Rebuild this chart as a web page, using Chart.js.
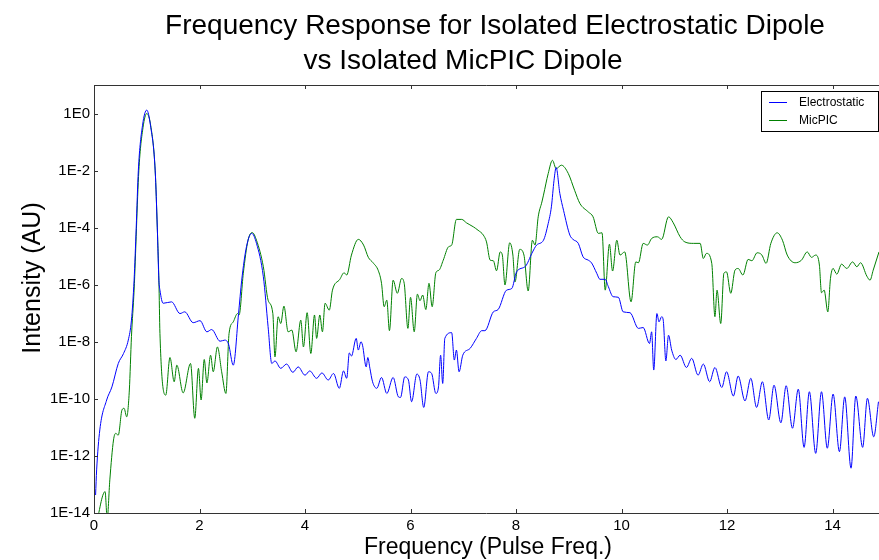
<!DOCTYPE html>
<html>
<head>
<meta charset="utf-8">
<script src="https://cdn.jsdelivr.net/npm/chart.js@4.4.1/dist/chart.umd.min.js"></script>
<style>
  html, body { margin: 0; padding: 0; background: #fff; }
  #wrap { width: 879px; height: 560px; position: relative; }
</style>
</head>
<body>
<div id="wrap"><canvas id="spectrum" width="879" height="560"></canvas></div>
<script>
// frequency in units of the pulse frequency, intensity kept as log10 exponents
var electroFreq = [0.03,0.05,0.11,0.24,0.34,0.46,0.56,0.65,0.71,0.76,0.80,0.84,0.92,1.00,1.07,1.16,1.20,1.23,1.25,1.31,1.47,1.63,1.72,1.88,2.01,2.14,2.23,2.39,2.48,2.55,2.64,2.74,2.80,2.89,2.99,3.08,3.21,3.30,3.37,3.43,3.54,3.65,3.77,3.87,4.00,4.09,4.22,4.32,4.44,4.54,4.65,4.73,4.79,4.84,4.88,4.97,5.01,5.06,5.09,5.16,5.19,5.23,5.28,5.36,5.45,5.55,5.67,5.77,5.81,5.89,5.96,6.02,6.12,6.18,6.25,6.34,6.40,6.48,6.53,6.57,6.61,6.65,6.78,6.83,6.87,6.92,6.99,7.13,7.25,7.35,7.41,7.57,7.66,7.82,7.92,8.01,8.18,8.30,8.39,8.52,8.61,8.67,8.72,8.76,8.83,8.90,9.02,9.08,9.18,9.27,9.37,9.43,9.53,9.59,9.69,9.75,9.84,9.94,10.03,10.16,10.32,10.41,10.53,10.57,10.61,10.67,10.71,10.76,10.79,10.84,10.89,10.95,11.03,11.11,11.23,11.33,11.45,11.55,11.67,11.77,11.90,11.99,12.12,12.21,12.34,12.45,12.56,12.67,12.79,12.89,13.02,13.12,13.24,13.35,13.46,13.56,13.68,13.79,13.90,14.01,14.13,14.23,14.35,14.44,14.57,14.66,14.78,14.87];
var electroExp = [-13.37,-12.49,-11.09,-10.04,-9.58,-8.76,-8.41,-7.94,-7.24,-5.84,-4.01,-2.01,-0.41,0.12,-0.41,-2.01,-4.01,-5.84,-6.19,-6.65,-6.60,-7.01,-6.95,-7.33,-7.26,-7.65,-7.57,-7.98,-7.94,-8.08,-8.82,-7.01,-5.84,-4.67,-4.20,-4.55,-5.72,-7.47,-8.76,-8.67,-8.93,-8.78,-9.07,-8.88,-9.17,-9.02,-9.28,-9.09,-9.34,-9.11,-9.63,-9.02,-9.28,-8.39,-8.50,-7.88,-8.29,-8.00,-8.12,-8.88,-8.55,-8.93,-9.40,-9.63,-9.25,-9.81,-9.25,-9.93,-9.95,-9.23,-9.34,-10.10,-9.13,-9.34,-10.30,-9.05,-9.11,-9.81,-9.58,-8.47,-9.46,-7.88,-7.68,-8.64,-8.29,-9.05,-8.47,-8.23,-7.88,-7.61,-7.61,-6.95,-6.87,-6.19,-6.13,-5.55,-5.35,-4.90,-4.61,-4.44,-3.85,-3.27,-2.34,-1.89,-2.80,-3.39,-4.26,-4.41,-4.55,-5.02,-5.14,-5.23,-5.60,-5.81,-5.81,-6.07,-6.42,-6.44,-6.95,-6.98,-7.53,-7.50,-8.06,-7.65,-8.99,-7.01,-7.30,-7.12,-7.24,-8.67,-7.77,-8.29,-8.62,-8.47,-8.90,-8.58,-9.17,-8.78,-9.40,-8.90,-9.60,-9.05,-9.90,-9.20,-10.07,-9.28,-10.30,-9.40,-10.74,-9.52,-10.84,-9.54,-11.03,-9.66,-11.70,-9.75,-11.91,-9.75,-11.73,-9.83,-11.85,-9.93,-12.43,-9.90,-11.70,-9.98,-11.33,-10.10];

var micpicFreq = [0.04,0.21,0.25,0.30,0.37,0.41,0.46,0.53,0.57,0.62,0.67,0.71,0.76,0.85,0.93,1.00,1.08,1.16,1.20,1.23,1.25,1.36,1.44,1.52,1.57,1.69,1.83,1.91,1.98,2.03,2.09,2.14,2.21,2.26,2.34,2.42,2.50,2.56,2.64,2.72,2.75,2.83,2.92,3.00,3.08,3.21,3.30,3.39,3.43,3.49,3.54,3.60,3.68,3.75,3.83,3.92,3.97,4.04,4.11,4.18,4.22,4.28,4.33,4.38,4.46,4.52,4.66,4.74,4.79,4.88,5.01,5.11,5.20,5.29,5.39,5.45,5.50,5.55,5.60,5.67,5.75,5.83,5.88,5.95,6.00,6.07,6.13,6.18,6.23,6.29,6.35,6.41,6.48,6.54,6.62,6.72,6.78,6.87,6.97,7.06,7.19,7.28,7.38,7.44,7.51,7.57,7.63,7.70,7.74,7.79,7.88,7.94,7.98,8.07,8.15,8.23,8.31,8.36,8.42,8.49,8.52,8.61,8.69,8.76,8.86,8.99,9.11,9.21,9.37,9.46,9.56,9.63,9.69,9.77,9.83,9.91,9.97,10.06,10.18,10.27,10.32,10.41,10.49,10.57,10.68,10.76,10.89,10.98,11.11,11.20,11.36,11.49,11.55,11.61,11.71,11.77,11.81,11.88,11.94,11.99,12.07,12.15,12.21,12.30,12.40,12.47,12.57,12.66,12.74,12.83,12.95,13.05,13.14,13.29,13.41,13.52,13.60,13.68,13.75,13.79,13.84,13.91,13.96,14.01,14.08,14.17,14.27,14.38,14.46,14.53,14.65,14.71,14.77,14.88];
var micpicExp = [-14.42,-13.25,-14.20,-12.84,-11.44,-11.21,-11.27,-10.39,-10.33,-10.63,-9.69,-7.82,-6.19,-2.01,-0.48,0.00,-0.48,-2.01,-4.01,-5.84,-7.71,-9.87,-8.55,-9.40,-8.82,-9.79,-8.76,-10.68,-8.93,-10.04,-8.62,-9.44,-8.47,-9.05,-8.18,-9.05,-9.81,-7.71,-7.30,-7.01,-7.06,-5.60,-4.44,-4.17,-4.44,-5.37,-6.54,-7.01,-8.53,-7.12,-7.36,-6.75,-7.65,-7.59,-8.35,-7.24,-8.18,-6.98,-8.41,-7.06,-7.88,-7.06,-7.65,-6.65,-6.89,-6.19,-5.81,-5.58,-5.66,-4.96,-4.41,-4.61,-5.04,-5.23,-5.51,-5.95,-6.77,-6.54,-7.61,-5.84,-6.30,-5.78,-5.95,-7.53,-6.44,-7.65,-6.33,-6.56,-6.36,-6.87,-5.95,-6.77,-5.58,-5.49,-5.14,-4.67,-4.61,-3.71,-3.71,-3.83,-3.97,-4.09,-4.26,-4.50,-5.14,-5.16,-5.51,-4.85,-4.96,-6.01,-4.53,-4.96,-5.90,-4.76,-4.96,-6.22,-4.44,-4.61,-3.62,-3.10,-2.86,-2.10,-1.64,-1.93,-1.81,-2.10,-2.69,-3.15,-3.45,-3.62,-4.20,-4.18,-6.19,-4.58,-5.52,-4.44,-4.96,-4.85,-6.60,-5.20,-5.23,-4.55,-4.61,-4.38,-4.32,-4.41,-3.62,-3.83,-4.32,-4.50,-4.55,-4.55,-5.08,-4.90,-5.25,-7.12,-6.19,-7.36,-5.60,-5.55,-6.30,-5.49,-5.43,-5.66,-5.11,-5.16,-4.88,-4.96,-5.25,-4.55,-4.18,-4.44,-4.96,-5.23,-5.14,-4.85,-5.04,-4.96,-5.31,-6.28,-6.19,-6.95,-5.78,-5.43,-5.63,-5.28,-5.43,-5.20,-5.37,-5.23,-5.70,-5.84,-5.49,-4.85];

var seriesNames = ["Electrostatic", "MicPIC"];
var seriesColors = ["#0000ff", "#008000"];
var freqTicks = [0, 2, 4, 6, 8, 10, 12, 14];
var intensityTicks = [1e-14, 1e-12, 1e-10, 1e-8, 1e-6, 1e-4, 1e-2, 1];

function toPoints(freq, exps) {
  return freq.map(function (f, i) { return { x: f, y: Math.pow(10, exps[i]) }; });
}

var FONT = "'Liberation Sans', Arial, sans-serif";

// title, axis frame with inward ticks, legend box
var decorations = {
  id: "decorations",
  afterDraw: function (chart) {
    var c = chart.ctx, a = chart.chartArea;
    var xs = chart.scales.x, ys = chart.scales.y;
    c.save();

    c.fillStyle = "#000";
    c.textAlign = "center";
    c.textBaseline = "alphabetic";
    c.font = "28px " + FONT;
    c.fillText("Frequency Response for Isolated Electrostatic Dipole", 495, 34);
    c.fillText("vs Isolated MicPIC Dipole", 463, 69);

    c.font = "23px " + FONT;
    c.fillText("Frequency (Pulse Freq.)", 488, 554);

    c.save();
    c.translate(40, 278);
    c.rotate(-Math.PI / 2);
    c.font = "25px " + FONT;
    c.fillText("Intensity (AU)", 0, 0);
    c.restore();

    c.strokeStyle = "#333";
    c.lineWidth = 1;
    c.beginPath();
    c.moveTo(a.left + 0.5, a.bottom + 0.5);
    c.lineTo(a.left + 0.5, a.top + 0.5);
    c.lineTo(a.right, a.top + 0.5);
    c.moveTo(a.left, a.bottom + 0.5);
    c.lineTo(a.right, a.bottom + 0.5);
    freqTicks.forEach(function (t) {
      var px = Math.round(xs.getPixelForValue(t)) + 0.5;
      c.moveTo(px, a.bottom); c.lineTo(px, a.bottom - 4);
      c.moveTo(px, a.top); c.lineTo(px, a.top + 4);
    });
    intensityTicks.forEach(function (t) {
      var py = Math.round(ys.getPixelForValue(t)) + 0.5;
      c.moveTo(a.left, py); c.lineTo(a.left + 4, py);
    });
    c.stroke();

    // legend
    var lx = 761, ly = 91, lw = 117, lh = 40;
    c.fillStyle = "#fff";
    c.fillRect(lx, ly, lw, lh);
    c.strokeStyle = "#000";
    c.strokeRect(lx + 0.5, ly + 0.5, lw, lh);
    c.font = "12px " + FONT;
    c.textAlign = "left";
    c.textBaseline = "middle";
    seriesNames.forEach(function (name, i) {
      var y = ly + 11 + i * 18;
      c.strokeStyle = seriesColors[i];
      c.beginPath();
      c.moveTo(lx + 8, y + 0.5); c.lineTo(lx + 26, y + 0.5);
      c.stroke();
      c.fillStyle = "#000";
      c.fillText(name, lx + 38, y + 1);
    });
    c.restore();
  }
};

new Chart(document.getElementById("spectrum").getContext("2d"), {
  type: "line",
  data: {
    datasets: [
      {
        label: seriesNames[0],
        data: toPoints(electroFreq, electroExp),
        borderColor: seriesColors[0],
        borderWidth: 1,
        pointRadius: 0,
        cubicInterpolationMode: "monotone"
      },
      {
        label: seriesNames[1],
        data: toPoints(micpicFreq, micpicExp),
        borderColor: seriesColors[1],
        borderWidth: 1,
        pointRadius: 0,
        cubicInterpolationMode: "monotone"
      }
    ]
  },
  options: {
    responsive: false,
    animation: false,
    layout: { padding: { top: 85, right: 0, left: 0, bottom: 0 } },
    plugins: { legend: { display: false }, title: { display: false }, tooltip: { enabled: false } },
    scales: {
      x: {
        type: "linear",
        min: 0,
        max: 14.88,
        grid: { display: false, drawTicks: false },
        border: { display: false },
        afterBuildTicks: function (s) { s.ticks = freqTicks.map(function (v) { return { value: v }; }); },
        ticks: { color: "#000", font: { size: 15, family: FONT }, padding: 4, maxRotation: 0 },
        afterFit: function (s) { s.height = 47; }
      },
      y: {
        type: "logarithmic",
        min: 1e-14,
        max: 10,
        grid: { display: false, drawTicks: false },
        border: { display: false },
        afterBuildTicks: function (s) { s.ticks = intensityTicks.map(function (v) { return { value: v }; }); },
        ticks: {
          color: "#000",
          font: { size: 15, family: FONT },
          padding: 4,
          callback: function (v) { return "1E" + Math.round(Math.log10(v)); }
        },
        afterFit: function (s) { s.width = 94; }
      }
    }
  },
  plugins: [decorations]
});
</script>
</body>
</html>
